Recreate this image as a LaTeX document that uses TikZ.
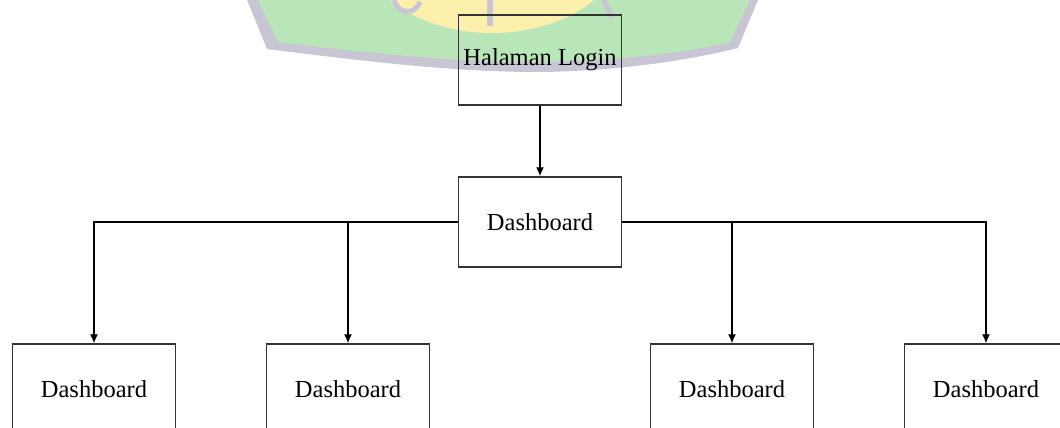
\documentclass[tikz,border=0pt]{standalone}
\usepackage{fontspec}
\setmainfont{Liberation Serif}
\usetikzlibrary{arrows.meta}
\definecolor{logogreen}{RGB}{184,230,184}
\definecolor{logoyellow}{RGB}{253,240,172}
\definecolor{logogray}{RGB}{200,198,212}
\begin{document}
\begin{tikzpicture}[x=1pt, y=-1pt, >={Latex[length=9pt,width=8pt]}, line width=1.3pt, font=\fontsize{24.5}{28}\selectfont]
    \tikzstyle{block}=[draw=black!80, line width=1.5pt, minimum width=163pt, minimum height=90pt, inner sep=0pt, align=center]
    \useasboundingbox (0,0) rectangle (1060,428);
    % watermark
    \fill[logogray] (247,0) -- (267,49) .. controls (400,66) and (470,72) .. (540,72) .. controls (620,71) and (690,60) .. (738,48) -- (758,0) -- cycle;
    \fill[logogreen] (258,0) -- (278,42) .. controls (400,57) and (470,62) .. (540,62) .. controls (620,61) and (690,52) .. (730,42) -- (750,0) -- cycle;
    \fill[logoyellow] (492,-62) ellipse [x radius=135, y radius=95];
    \draw[logogray, line width=6pt] (490,0) -- (490,26);
    \draw[logogray, line width=5pt] (394,0) .. controls (398,14) and (414,16) .. (420,2);
    \draw[logogray, line width=5pt] (604,0) -- (612,18);
    % diagram
    \node[block] (login) at (540,60) {Halaman Login};
    \node[block] (dash) at (540,222) {Dashboard};
    \node[block] (sub1) at (94,389) {Dashboard};
    \node[block] (sub2) at (348,389) {Dashboard};
    \node[block] (sub3) at (732,389) {Dashboard};
    \node[block] (sub4) at (986,389) {Dashboard};
    \draw[->] (login) -- (dash);
    \draw[->] (dash.west) -| (sub1.north); \draw[->] (dash.west) -| (sub2.north);
    \draw[->] (dash.east) -| (sub3.north); \draw[->] (dash.east) -| (sub4.north);
\end{tikzpicture}
\end{document}
